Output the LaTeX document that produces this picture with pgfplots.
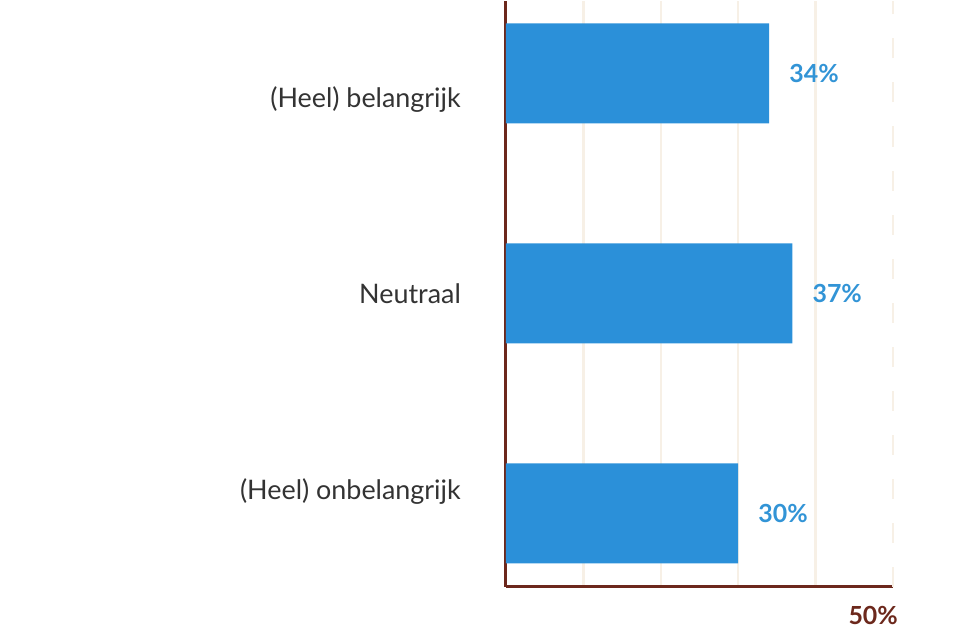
\documentclass[border=0pt]{standalone}
\usepackage{fontspec}
\setmainfont{Lato}
\usepackage{pgfplots}
\pgfplotsset{compat=1.18}
\definecolor{barblue}{RGB}{43,144,217}
\definecolor{valblue}{RGB}{50,148,214}
\definecolor{axbrown}{RGB}{108,40,28}
\definecolor{gridbeige}{RGB}{247,240,230}
\definecolor{labgray}{RGB}{51,51,51}
\begin{document}
\begin{tikzpicture}
\begin{axis}[
  scale only axis,
  width=387bp, height=585bp,
  xmin=0, xmax=50,
  ymin=-0.332, ymax=2.327,
  axis x line=bottom, axis y line=left,
  axis line style={draw=axbrown, line width=3bp, -},
  xtick={10,20,30,40},
  xticklabels={},
  xmajorgrids,
  major grid style={draw=gridbeige, line width=2.5bp},
  extra x ticks={50},
  extra x tick labels={50\%},
  extra x tick style={
    major grid style={draw=gridbeige, line width=2.5bp, dash pattern=on 20bp off 24bp},
    xticklabel style={anchor=north east, inner sep=0pt, xshift=5bp, yshift=-20bp,
      font=\fontsize{25}{28}\selectfont\bfseries, text=axbrown},
  },
  major tick length=0pt,
  ytick={0.1,1,1.882},
  yticklabels={(Heel) onbelangrijk, Neutraal, (Heel) belangrijk},
  yticklabel style={anchor=east, inner sep=0pt, xshift=-45bp,
    font=\fontsize{27}{30}\selectfont, text=labgray},
  xbar, bar shift=0pt, bar width=0.4545,
  point meta=x,
  nodes near coords={\pgfmathprintnumber[assume math mode=true]{\pgfplotspointmeta}\%},
  nodes near coords style={anchor=west, inner sep=0pt, xshift=20bp,
    font=\fontsize{25}{28}\selectfont\bfseries, text=valblue},
  clip=false,
]
\addplot[fill=barblue, draw=none] coordinates {(30,0) (37,1) (34,2)};
\path[use as bounding box] (rel axis cs:-1.3075,-0.094) rectangle (rel axis cs:1.1731,1);
\end{axis}
\end{tikzpicture}
\end{document}
